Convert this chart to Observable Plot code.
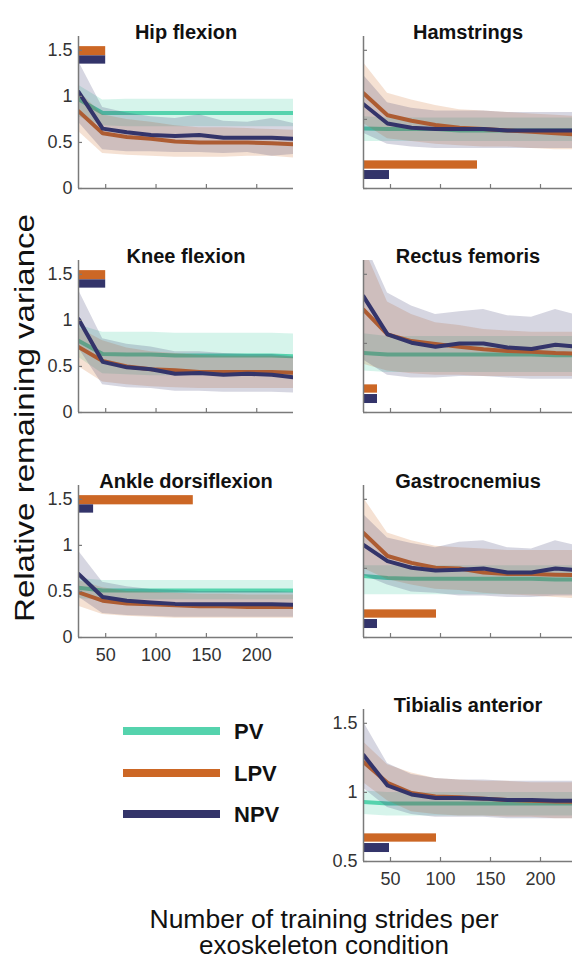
<!DOCTYPE html>
<html><head><meta charset="utf-8">
<script src="https://cdn.jsdelivr.net/npm/d3@7"></script>
<script src="https://cdn.jsdelivr.net/npm/@observablehq/plot@0.6"></script>
<style>
body{margin:0;background:#fff;}
#chart{position:relative;width:572px;height:962px;overflow:hidden;background:#fff;font-family:"Liberation Sans",Arial,sans-serif;}
#chart .panel{position:absolute;}
</style></head><body><div id="chart"></div>
<script>
// ---- data ----
const strides = [23, 47, 71, 95, 119, 143, 167, 191, 215, 239];
const series = ["PV", "LPV", "NPV"];
const colors = ["#55d3ad", "#cc6725", "#33346a"];
const panelTitles = ["Hip flexion", "Hamstrings", "Knee flexion", "Rectus femoris", "Ankle dorsiflexion", "Gastrocnemius", "Tibialis anterior"];
const xTicks = [50, 100, 150, 200];
const yTicksLeft = [0, 0.5, 1, 1.5];
const yTicksRight = [0.5, 1, 1.5];
const yDomainLeft = [0, 1.65];
const yDomainRight = [0.5, 1.6];
// significance bars: end stride per panel
const sigLPV = [50, 137, 50, 37, 137, 96, 96];
const sigNPV = [50, 49, 50, 37, 38, 37, 49];
const sigLevelsLeft = [[1.44, 1.54], [1.35, 1.44]];
const sigLevelsRight = [[0.64, 0.70], [0.565, 0.63]];

// Hip flexion
const hipPV = [0.97, 0.82, 0.82, 0.82, 0.82, 0.82, 0.82, 0.82, 0.82, 0.82];
const hipPVlo = [0.78, 0.68, 0.67, 0.67, 0.67, 0.67, 0.67, 0.67, 0.67, 0.67];
const hipPVhi = [1.12, 0.96, 0.97, 0.97, 0.97, 0.97, 0.97, 0.97, 0.97, 0.97];
const hipLPV = [0.84, 0.60, 0.56, 0.54, 0.51, 0.50, 0.50, 0.50, 0.49, 0.48];
const hipLPVlo = [0.62, 0.38, 0.36, 0.35, 0.34, 0.34, 0.34, 0.35, 0.35, 0.33];
const hipLPVhi = [1.06, 0.80, 0.75, 0.72, 0.68, 0.66, 0.66, 0.65, 0.64, 0.63];
const hipNPV = [1.05, 0.65, 0.61, 0.58, 0.57, 0.58, 0.55, 0.55, 0.55, 0.54];
const hipNPVlo = [0.72, 0.42, 0.40, 0.40, 0.39, 0.39, 0.38, 0.39, 0.35, 0.37];
const hipNPVhi = [1.38, 0.88, 0.82, 0.78, 0.76, 0.80, 0.73, 0.72, 0.76, 0.70];
// Hamstrings
const hamPV = [0.935, 0.93, 0.93, 0.93, 0.92, 0.92, 0.92, 0.92, 0.92, 0.92];
const hamPVlo = [0.84, 0.84, 0.84, 0.84, 0.84, 0.84, 0.84, 0.84, 0.84, 0.84];
const hamPVhi = [1.02, 1.01, 1.01, 1.01, 1.01, 1.01, 1.01, 1.01, 1.01, 1.01];
const hamLPV = [1.19, 1.03, 0.99, 0.96, 0.94, 0.93, 0.92, 0.91, 0.90, 0.89];
const hamLPVlo = [0.97, 0.86, 0.84, 0.82, 0.81, 0.80, 0.80, 0.79, 0.78, 0.78];
const hamLPVhi = [1.41, 1.19, 1.14, 1.10, 1.07, 1.06, 1.05, 1.04, 1.03, 1.02];
const hamNPV = [1.11, 0.97, 0.94, 0.93, 0.93, 0.93, 0.92, 0.92, 0.92, 0.92];
const hamNPVlo = [0.90, 0.82, 0.80, 0.79, 0.79, 0.79, 0.79, 0.79, 0.79, 0.79];
const hamNPVhi = [1.32, 1.12, 1.08, 1.06, 1.06, 1.06, 1.05, 1.05, 1.05, 1.05];
// Knee flexion
const kneePV = [0.78, 0.635, 0.63, 0.63, 0.62, 0.62, 0.62, 0.62, 0.62, 0.61];
const kneePVlo = [0.60, 0.42, 0.41, 0.40, 0.40, 0.40, 0.40, 0.40, 0.40, 0.40];
const kneePVhi = [0.95, 0.87, 0.87, 0.87, 0.86, 0.86, 0.86, 0.86, 0.86, 0.85];
const kneeLPV = [0.71, 0.56, 0.50, 0.47, 0.46, 0.44, 0.44, 0.44, 0.44, 0.43];
const kneeLPVlo = [0.50, 0.33, 0.30, 0.28, 0.27, 0.26, 0.26, 0.26, 0.26, 0.26];
const kneeLPVhi = [0.92, 0.78, 0.70, 0.66, 0.64, 0.62, 0.61, 0.61, 0.61, 0.60];
const kneeNPV = [1.015, 0.55, 0.49, 0.47, 0.42, 0.43, 0.41, 0.42, 0.41, 0.38];
const kneeNPVlo = [0.70, 0.30, 0.27, 0.26, 0.23, 0.23, 0.22, 0.22, 0.22, 0.21];
const kneeNPVhi = [1.33, 0.80, 0.74, 0.71, 0.66, 0.66, 0.64, 0.63, 0.63, 0.60];
// Rectus femoris
const recPV = [0.93, 0.92, 0.92, 0.92, 0.92, 0.92, 0.92, 0.92, 0.915, 0.915];
const recPVlo = [0.80, 0.79, 0.79, 0.79, 0.79, 0.79, 0.79, 0.79, 0.79, 0.79];
const recPVhi = [1.07, 1.05, 1.05, 1.05, 1.05, 1.05, 1.05, 1.05, 1.05, 1.05];
const recLPV = [1.245, 1.065, 1.017, 0.995, 0.975, 0.957, 0.945, 0.94, 0.93, 0.925];
const recLPVlo = [0.85, 0.80, 0.78, 0.77, 0.77, 0.76, 0.76, 0.76, 0.76, 0.76];
const recLPVhi = [1.70, 1.30, 1.21, 1.15, 1.13, 1.10, 1.09, 1.08, 1.08, 1.08];
const recNPV = [1.34, 1.065, 1.005, 0.976, 1.0, 1.0, 0.97, 0.96, 0.99, 0.975];
const recNPVlo = [0.88, 0.77, 0.75, 0.75, 0.76, 0.76, 0.75, 0.74, 0.74, 0.74];
const recNPVhi = [1.75, 1.365, 1.27, 1.21, 1.23, 1.245, 1.20, 1.19, 1.245, 1.20];
// Ankle dorsiflexion
const ankPV = [0.54, 0.51, 0.51, 0.51, 0.51, 0.51, 0.51, 0.51, 0.51, 0.51];
const ankPVlo = [0.42, 0.41, 0.41, 0.41, 0.41, 0.41, 0.41, 0.41, 0.41, 0.41];
const ankPVhi = [0.64, 0.62, 0.62, 0.62, 0.62, 0.62, 0.62, 0.62, 0.62, 0.62];
const ankLPV = [0.49, 0.40, 0.37, 0.36, 0.35, 0.34, 0.34, 0.33, 0.33, 0.33];
const ankLPVlo = [0.34, 0.25, 0.23, 0.22, 0.21, 0.21, 0.21, 0.21, 0.21, 0.21];
const ankLPVhi = [0.62, 0.54, 0.50, 0.49, 0.48, 0.47, 0.47, 0.46, 0.46, 0.46];
const ankNPV = [0.69, 0.44, 0.40, 0.38, 0.365, 0.36, 0.36, 0.36, 0.36, 0.355];
const ankNPVlo = [0.44, 0.26, 0.24, 0.23, 0.22, 0.22, 0.22, 0.22, 0.22, 0.22];
const ankNPVhi = [0.94, 0.60, 0.55, 0.52, 0.51, 0.50, 0.50, 0.50, 0.50, 0.49];
// Gastrocnemius
const gasPV = [0.945, 0.93, 0.925, 0.925, 0.925, 0.925, 0.925, 0.925, 0.92, 0.92];
const gasPVlo = [0.81, 0.81, 0.81, 0.81, 0.81, 0.81, 0.81, 0.81, 0.81, 0.81];
const gasPVhi = [1.02, 1.02, 1.02, 1.02, 1.02, 1.02, 1.02, 1.02, 1.02, 1.02];
const gasLPV = [1.257, 1.09, 1.04, 1.005, 1.0, 0.97, 0.96, 0.96, 0.955, 0.95];
const gasLPVlo = [1.0, 0.92, 0.88, 0.85, 0.84, 0.82, 0.81, 0.80, 0.79, 0.78];
const gasLPVhi = [1.51, 1.257, 1.20, 1.16, 1.15, 1.14, 1.13, 1.13, 1.13, 1.13];
const gasNPV = [1.17, 1.053, 1.005, 0.985, 0.99, 1.0, 0.97, 0.97, 1.0, 0.985];
const gasNPVlo = [0.95, 0.88, 0.83, 0.82, 0.80, 0.80, 0.79, 0.79, 0.80, 0.80];
const gasNPVhi = [1.39, 1.22, 1.18, 1.15, 1.19, 1.20, 1.15, 1.14, 1.20, 1.16];
// Tibialis anterior
const tibPV = [0.93, 0.92, 0.92, 0.92, 0.92, 0.92, 0.92, 0.92, 0.92, 0.92];
const tibPVlo = [0.84, 0.83, 0.83, 0.83, 0.83, 0.83, 0.83, 0.83, 0.83, 0.83];
const tibPVhi = [1.01, 1.0, 1.0, 1.0, 1.0, 1.0, 1.0, 1.0, 1.0, 1.0];
const tibLPV = [1.22, 1.07, 0.995, 0.97, 0.965, 0.955, 0.945, 0.94, 0.935, 0.93];
const tibLPVlo = [1.07, 0.94, 0.86, 0.84, 0.83, 0.83, 0.82, 0.82, 0.81, 0.81];
const tibLPVhi = [1.365, 1.20, 1.14, 1.10, 1.09, 1.08, 1.08, 1.07, 1.07, 1.07];
const tibNPV = [1.27, 1.05, 0.985, 0.96, 0.96, 0.955, 0.945, 0.945, 0.94, 0.94];
const tibNPVlo = [1.03, 0.89, 0.84, 0.82, 0.82, 0.82, 0.81, 0.81, 0.81, 0.81];
const tibNPVhi = [1.51, 1.21, 1.13, 1.10, 1.09, 1.09, 1.08, 1.08, 1.08, 1.08];

const panelData = [
  [[hipPV, hipPVlo, hipPVhi], [hipLPV, hipLPVlo, hipLPVhi], [hipNPV, hipNPVlo, hipNPVhi]],
  [[hamPV, hamPVlo, hamPVhi], [hamLPV, hamLPVlo, hamLPVhi], [hamNPV, hamNPVlo, hamNPVhi]],
  [[kneePV, kneePVlo, kneePVhi], [kneeLPV, kneeLPVlo, kneeLPVhi], [kneeNPV, kneeNPVlo, kneeNPVhi]],
  [[recPV, recPVlo, recPVhi], [recLPV, recLPVlo, recLPVhi], [recNPV, recNPVlo, recNPVhi]],
  [[ankPV, ankPVlo, ankPVhi], [ankLPV, ankLPVlo, ankLPVhi], [ankNPV, ankNPVlo, ankNPVhi]],
  [[gasPV, gasPVlo, gasPVhi], [gasLPV, gasLPVlo, gasLPVhi], [gasNPV, gasNPVlo, gasNPVhi]],
  [[tibPV, tibPVlo, tibPVhi], [tibLPV, tibLPVlo, tibLPVhi], [tibNPV, tibNPVlo, tibNPVhi]]
];

// ---- layout ----
const chart = document.getElementById("chart");
const rowTops = [0, 224, 449, 673];
const axisColor = "#7a7a7a";
const bandOpacity = [0.24, 0.2, 0.2];

function drawPanel(k) {
  const col = k === 6 ? 1 : k % 2;
  const row = Math.floor(k / 2);
  const isLeft = col === 0;
  const mL = isLeft ? 78 : 69;
  const W = isLeft ? 293 : 278;
  const mT = 36, ph = 152, mB = 34;
  const H = mT + ph + mB;
  const pw = W - mL;
  const xDom = isLeft ? [23, 236.5] : [23, 232];
  const yDom = isLeft ? yDomainLeft : yDomainRight;
  const yT = isLeft ? yTicksLeft : yTicksRight;
  const showY = isLeft || k === 6;
  const showX = k === 4 || k === 6;
  const lev = isLeft ? sigLevelsLeft : sigLevelsRight;

  const marks = [];
  series.forEach((s, i) => {
    const [m, lo, hi] = panelData[k][i];
    const rows = strides.map((x, j) => ({x, m: m[j], lo: lo[j], hi: hi[j]}));
    marks.push(Plot.areaY(rows, {x: "x", y1: "lo", y2: "hi", fill: colors[i], fillOpacity: bandOpacity[i], clip: true}));
    marks.push(Plot.line(rows, {x: "x", y: "m", stroke: colors[i], strokeWidth: 4, clip: true}));
  });
  const sigEnds = [sigLPV[k], sigNPV[k]];
  [1, 2].forEach((si, j) => {
    marks.push(Plot.rect([{x1: strides[0], x2: sigEnds[j], y1: lev[j][0], y2: lev[j][1]}],
      {x1: "x1", x2: "x2", y1: "y1", y2: "y2", fill: colors[si]}));
  });
  marks.push(Plot.ruleX([xDom[0]], {stroke: axisColor, strokeWidth: 1.5}));
  marks.push(Plot.ruleY([yDom[0]], {stroke: axisColor, strokeWidth: 1.5}));
  marks.push(Plot.tickX(xTicks, {x: d => d, stroke: axisColor, strokeWidth: 1.2, insetTop: ph - 4}));
  marks.push(Plot.tickY(yT, {y: d => d, stroke: axisColor, strokeWidth: 1.2, insetRight: pw - 4}));
  if (showY) marks.push(Plot.axisY(yT, {tickSize: 0, tickPadding: 6, fontSize: 18, fill: "#333", tickFormat: d => String(d)}));
  if (showX) marks.push(Plot.axisX(xTicks, {tickSize: 0, tickPadding: 11, fontSize: 18, fill: "#333", tickFormat: d => String(d)}));
  marks.push(Plot.text([panelTitles[k]], {text: d => d, frameAnchor: "top", dy: -12, fontWeight: "bold", fontSize: 20, fill: "#111"}));

  const svg = Plot.plot({
    width: W, height: H,
    marginLeft: mL, marginRight: 0, marginTop: mT, marginBottom: mB,
    x: {domain: xDom, axis: null},
    y: {domain: yDom, axis: null},
    style: {fontFamily: "Liberation Sans, Arial, sans-serif", background: "transparent", overflow: "visible"},
    marks
  });
  const div = document.createElement("div");
  div.className = "panel";
  div.style.left = (isLeft ? 0 : 294) + "px";
  div.style.top = rowTops[row] + "px";
  div.style.width = W + "px";
  div.appendChild(svg);
  chart.appendChild(div);
}
for (let k = 0; k < 7; k++) drawPanel(k);

// ---- axis titles and legend ----
const ov = d3.select(chart).append("svg")
  .attr("width", 572).attr("height", 962)
  .style("position", "absolute").style("left", 0).style("top", 0)
  .style("pointer-events", "none")
  .attr("font-family", "Liberation Sans, Arial, sans-serif");

ov.append("text")
  .attr("transform", "translate(25,418) rotate(-90)")
  .attr("text-anchor", "middle").attr("dominant-baseline", "central")
  .attr("font-size", 27).attr("fill", "#111")
  .attr("textLength", 408).attr("lengthAdjust", "spacingAndGlyphs")
  .text("Relative remaining variance");

const xTitle = ["Number of training strides per", "exoskeleton condition"];
const xTitleLen = [349, 250];
xTitle.forEach((t, i) => {
  ov.append("text")
    .attr("x", 324).attr("y", 928 + i * 25.5)
    .attr("text-anchor", "middle").attr("font-size", 25.5).attr("fill", "#111")
    .attr("textLength", xTitleLen[i]).attr("lengthAdjust", "spacingAndGlyphs")
    .text(t);
});

const legY = [731, 773, 814];
series.forEach((s, i) => {
  ov.append("line")
    .attr("x1", 123).attr("x2", 220).attr("y1", legY[i]).attr("y2", legY[i])
    .attr("stroke", colors[i]).attr("stroke-width", 8);
  ov.append("text")
    .attr("x", 234).attr("y", legY[i]).attr("dominant-baseline", "central")
    .attr("font-size", 22).attr("font-weight", "bold").attr("fill", "#111")
    .text(s);
});
</script>
</body></html>
